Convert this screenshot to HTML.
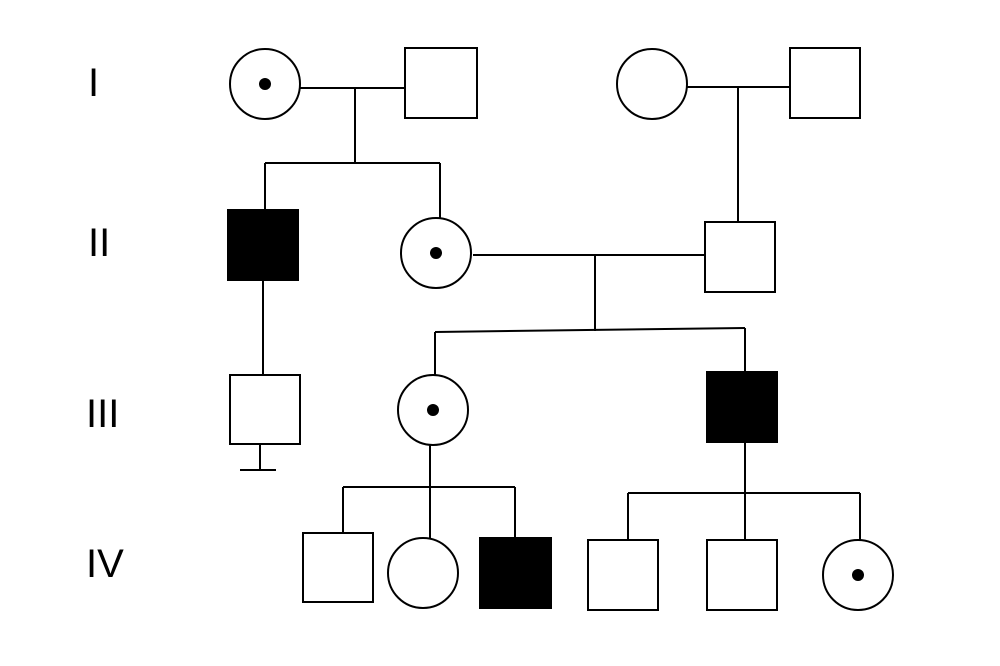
<!DOCTYPE html>
<html><head><meta charset="utf-8"><style>
html,body{margin:0;padding:0;background:#fff;}
svg{display:block;}
text{font-family:"Liberation Sans",sans-serif;font-size:40px;fill:#000;}
</style></head><body>
<svg width="1000" height="666" viewBox="0 0 1000 666" xmlns="http://www.w3.org/2000/svg">
<g stroke="#000" stroke-width="2" fill="none">
<!-- Gen I -->
<circle cx="265" cy="84" r="35" fill="#fff"/>
<line x1="300" y1="88" x2="405" y2="88"/>
<rect x="405" y="48" width="72" height="70" fill="#fff"/>
<line x1="355" y1="88" x2="355" y2="163"/>
<line x1="265" y1="163" x2="440" y2="163"/>
<line x1="265" y1="163" x2="265" y2="210"/>
<line x1="440" y1="163" x2="440" y2="218"/>
<circle cx="652" cy="84" r="35" fill="#fff"/>
<line x1="687" y1="87" x2="790" y2="87"/>
<rect x="790" y="48" width="70" height="70" fill="#fff"/>
<line x1="738" y1="87" x2="738" y2="222"/>
<!-- Gen II -->
<rect x="228" y="210" width="70" height="70" fill="#000"/>
<circle cx="436" cy="253" r="35" fill="#fff"/>
<line x1="473" y1="255" x2="705" y2="255"/>
<rect x="705" y="222" width="70" height="70" fill="#fff"/>
<line x1="595" y1="255" x2="595" y2="331"/>
<line x1="435" y1="332" x2="745" y2="328"/>
<line x1="435" y1="332" x2="435" y2="375"/>
<line x1="745" y1="328" x2="745" y2="372"/>
<line x1="263" y1="280" x2="263" y2="375"/>
<!-- Gen III -->
<rect x="230" y="375" width="70" height="69" fill="#fff"/>
<line x1="260" y1="444" x2="260" y2="470"/>
<line x1="240" y1="470" x2="276" y2="470"/>
<circle cx="433" cy="410" r="35" fill="#fff"/>
<rect x="707" y="372" width="70" height="70" fill="#000"/>
<line x1="430" y1="445" x2="430" y2="538"/>
<line x1="343" y1="487" x2="515" y2="487"/>
<line x1="343" y1="487" x2="343" y2="533"/>
<line x1="515" y1="487" x2="515" y2="538"/>
<line x1="745" y1="442" x2="745" y2="540"/>
<line x1="628" y1="493" x2="860" y2="493"/>
<line x1="628" y1="493" x2="628" y2="540"/>
<line x1="860" y1="493" x2="860" y2="541"/>
<!-- Gen IV -->
<rect x="303" y="533" width="70" height="69" fill="#fff"/>
<circle cx="423" cy="573" r="35" fill="#fff"/>
<rect x="480" y="538" width="71" height="70" fill="#000"/>
<rect x="588" y="540" width="70" height="70" fill="#fff"/>
<rect x="707" y="540" width="70" height="70" fill="#fff"/>
<circle cx="858" cy="575" r="35" fill="#fff"/>
</g>
<g fill="#000">
<circle cx="265" cy="84" r="6"/>
<circle cx="436" cy="253" r="6"/>
<circle cx="433" cy="410" r="6"/>
<circle cx="858" cy="575" r="6"/>
</g>
<text x="88" y="96">I</text>
<text x="88" y="256">II</text>
<text x="86" y="427">III</text>
<text x="86" y="577">IV</text>
</svg>
</body></html>
